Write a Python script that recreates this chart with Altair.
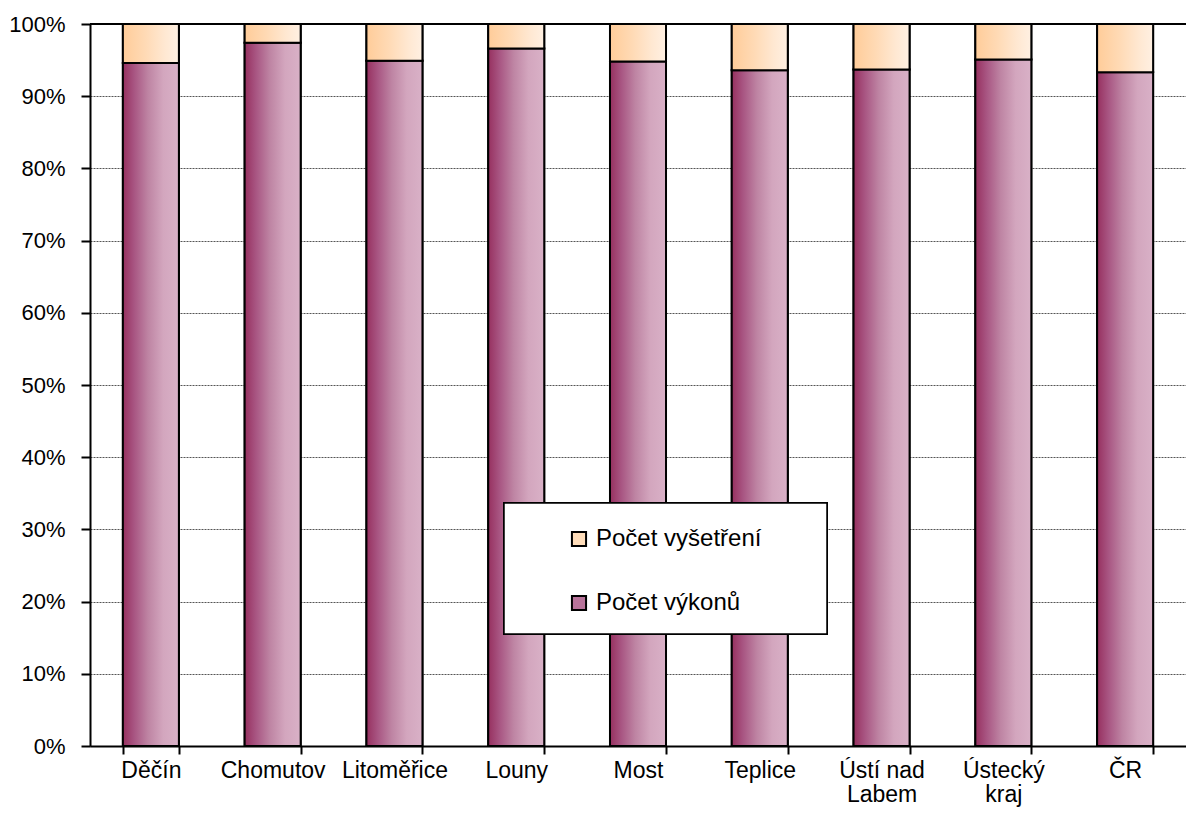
import altair as alt
import pandas as pd

categories = ["Děčín", "Chomutov", "Litoměřice", "Louny", "Most", "Teplice",
              "Ústí nad Labem", "Ústecký kraj", "ČR"]
series = ["Počet vyšetření", "Počet výkonů"]
vykony = [94.6, 97.4, 94.9, 96.6, 94.8, 93.6, 93.7, 95.1, 93.3]
vysetreni = [5.4, 2.6, 5.1, 3.4, 5.2, 6.4, 6.3, 4.9, 6.7]
y_ticks = [0, 0.1, 0.2, 0.3, 0.4, 0.5, 0.6, 0.7, 0.8, 0.9, 1.0]

rows = []
for c, a, b in zip(categories, vykony, vysetreni):
    rows.append({"kraj": c, "serie": series[1], "start": 0.0, "end": a / 100})
    rows.append({"kraj": c, "serie": series[0], "start": a / 100, "end": (a + b) / 100})
df = pd.DataFrame(rows)

FONT = "Liberation Sans, Arial, sans-serif"

grad_violet = alt.LinearGradient(
    gradient="linear", x1=0, x2=1, y1=0, y2=0,
    stops=[alt.GradientStop(color="#96305F", offset=0),
           alt.GradientStop(color="#A85582", offset=0.2),
           alt.GradientStop(color="#BE84A3", offset=0.45),
           alt.GradientStop(color="#D3A6BE", offset=0.72),
           alt.GradientStop(color="#D9B1C7", offset=1)])
grad_peach = alt.LinearGradient(
    gradient="linear", x1=0, x2=1, y1=0, y2=0,
    stops=[alt.GradientStop(color="#FFCC99", offset=0),
           alt.GradientStop(color="#FFDAB5", offset=0.4),
           alt.GradientStop(color="#FFE8D2", offset=0.75),
           alt.GradientStop(color="#FFF0E2", offset=1)])

x_enc = alt.X("kraj:N", sort=categories,
              scale=alt.Scale(paddingInner=0.54, paddingOuter=0.27),
              axis=alt.Axis(title=None, labelAngle=0, tickBand="extent",
                            labelFontSize=23, labelFont=FONT, labelColor="black",
                            labelPadding=5, labelLineHeight=24,
                            labelExpr="datum.value == 'Ústí nad Labem' ? ['Ústí nad', 'Labem'] : datum.value == 'Ústecký kraj' ? ['Ústecký', 'kraj'] : datum.value",
                            domainColor="black", domainWidth=2,
                            tickColor="black", tickWidth=2, tickSize=8, grid=False))
y_enc = alt.Y("start:Q", scale=alt.Scale(domain=[0, 1], nice=False),
              axis=alt.Axis(title=None, values=y_ticks, format=".0%",
                            labelFontSize=22, labelFont=FONT, labelColor="black",
                            labelPadding=16,
                            domainColor="black", domainWidth=2,
                            tickColor="black", tickWidth=2, tickSize=9,
                            grid=True, gridColor="#555555", gridDash=[2, 1],
                            gridWidth=1))

base = alt.Chart(df).mark_bar(stroke="black", strokeWidth=2).encode(
    x=x_enc, y=y_enc, y2="end:Q",
    fill=alt.Fill("serie:N",
                  scale=alt.Scale(domain=series, range=["#FFDDBA", "#B8739A"]),
                  legend=alt.Legend(title=None, orient="none", legendX=477, legendY=503,
                                    symbolType="square", symbolSize=200,
                                    symbolStrokeColor="black", symbolStrokeWidth=2,
                                    labelFontSize=24, labelFont=FONT, labelColor="black",
                                    labelOffset=5, rowPadding=40, padding=0,
                                    labelLimit=400)),
)

grad_bars = alt.Chart(df).mark_bar(stroke="black", strokeWidth=2).encode(
    x=alt.X("kraj:N", sort=categories),
    y="start:Q", y2="end:Q",
    fill=alt.condition(alt.datum.serie == series[1], alt.value(grad_violet), alt.value(grad_peach)),
)

top_rule = alt.Chart(df).mark_rule(color="black", strokeWidth=2).encode(y=alt.datum(1.0))

legend_box = alt.Chart(df).mark_rect(fill="white", stroke="black", strokeWidth=1.5).encode(
    x=alt.value(414), x2=alt.value(737), y=alt.value(479), y2=alt.value(610))

chart = alt.layer(base, grad_bars, top_rule, legend_box).properties(
    width=1096, height=722,
    padding={"left": 82, "top": 16, "right": 0, "bottom": 62},
    autosize=alt.AutoSizeParams(type="none"),
).configure_view(stroke=None).configure(font=FONT)

chart.save("out.html", embed_options={"renderer": "svg", "actions": False})
